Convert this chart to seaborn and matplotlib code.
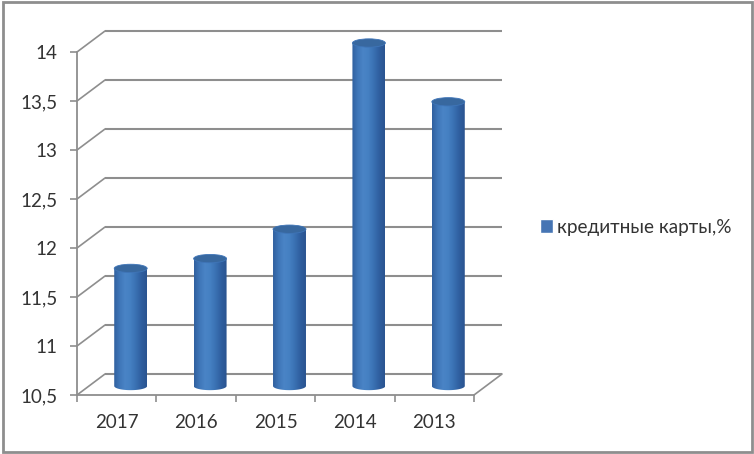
import numpy as np
import matplotlib
matplotlib.use("Agg")
import matplotlib.pyplot as plt
import seaborn as sns
from matplotlib.colors import LinearSegmentedColormap
from matplotlib.patches import Ellipse, Patch, PathPatch, Rectangle
from matplotlib.path import Path
from matplotlib.transforms import ScaledTranslation

years = ["2017", "2016", "2015", "2014", "2013"]
values = [11.7, 11.8, 12.1, 14.0, 13.4]
yticks = [10.5, 11, 11.5, 12, 12.5, 13, 13.5, 14]
yticklabels = ["10,5", "11", "11,5", "12", "12,5", "13", "13,5", "14"]
series_name = "кредитные карты,%"

W, H, DPI = 754, 454, 100
GREY = "#8e8e8e"
TEXT = "#333333"
FONT = "Lato"
BASE = yticks[0]

sns.set_theme(style="white")
plt.rcParams["font.family"] = [FONT, "DejaVu Sans"]

fig = plt.figure(figsize=(W / DPI, H / DPI), dpi=DPI, facecolor="white")
L, R, T, B = 77, 474, 52, 395
ax = fig.add_axes([L / W, 1 - B / H, (R - L) / W, (B - T) / H], facecolor="none")

sns.barplot(x=years, y=values, order=years, color="#3f75b8", width=0.415,
            ax=ax, legend=False, zorder=5)
ax.set_xlim(-0.5, 4.5)
ax.set_ylim(BASE, yticks[-1])

def shift(px, py):
    return ScaledTranslation(px / DPI, py / DPI, fig.dpi_scale_trans)

back = ax.transData + shift(28, 21)
bar_tr = ax.transData + shift(14, 9)
inv = ax.transData.inverted()

def diagonal(x, v):
    p0 = inv.transform(ax.transData.transform((x, v)))
    p1 = inv.transform(back.transform((x, v)))
    ax.plot([p0[0], p1[0]], [p0[1], p1[1]], color=GREY, lw=1.2, clip_on=False, zorder=1)

# back wall grid, side diagonals and floor
for v in yticks:
    ax.plot([-0.5, 4.5], [v, v], transform=back, color=GREY, lw=1.5,
            clip_on=False, zorder=1, solid_capstyle="butt")
    diagonal(-0.5, v)
diagonal(4.5, BASE)

# cylinders: the bars from seaborn become gradient-filled columns
cmap = LinearSegmentedColormap.from_list(
    "cyl", ["#30609f", "#3f76b8", "#4a84c6", "#4580c2", "#3a70b2", "#2f5f9f", "#2a5490"])
grad = np.linspace(0, 1, 128).reshape(1, -1)
eh = 0.085
for bar, v in zip(list(ax.patches), values):
    x, w = bar.get_x(), bar.get_width()
    cx = x + w / 2
    bar.set_visible(False)
    t = np.linspace(np.pi, 2 * np.pi, 40)
    xs = np.r_[x, cx + w / 2 * np.cos(t), x + w, x]
    ys = np.r_[v, BASE + eh / 2 * np.sin(t), v, v]
    clip = PathPatch(Path(np.c_[xs, ys]), transform=bar_tr, facecolor="none",
                     edgecolor="none", clip_on=False)
    ax.add_patch(clip)
    im = ax.imshow(grad, extent=(x, x + w, BASE - eh, v), cmap=cmap, aspect="auto",
                   transform=bar_tr, zorder=5)
    im.set_clip_box(fig.bbox)
    im.set_clip_path(clip)
    ax.add_patch(Ellipse((cx, v), w, eh, transform=bar_tr, facecolor="#38689f",
                         edgecolor="#3f75b8", lw=0.6, zorder=6, clip_on=False))
ax.set_xlim(-0.5, 4.5)
ax.set_ylim(BASE, yticks[-1])

# axes
sns.despine(ax=ax, top=True, right=True)
for s in ("left", "bottom"):
    ax.spines[s].set_color(GREY)
    ax.spines[s].set_linewidth(1.3)
    ax.spines[s].set_zorder(2)
ax.set_yticks(yticks, yticklabels)
ax.set_xticks(np.arange(len(years)), years)
ax.set_xticks(np.arange(-0.5, 5), minor=True)
ax.tick_params(axis="y", which="major", left=True, length=5, width=1.2, color=GREY, pad=9,
               labelsize=13.5, labelcolor=TEXT)
ax.tick_params(axis="x", which="major", bottom=False, pad=8, labelsize=13.5, labelcolor=TEXT)
ax.tick_params(axis="x", which="minor", bottom=True, length=5, width=1.2, color=GREY)
ax.set_xlabel("")
ax.set_ylabel("")

# legend
fig.legend(handles=[Patch(facecolor="#4675b4", label=series_name)], loc="center left",
           bbox_to_anchor=(523 / W, 1 - 227 / H), frameon=False, fontsize=13.6,
           handlelength=0.7, handleheight=0.7, handletextpad=0.2, labelcolor=TEXT)

# outer frame
fig.add_artist(Rectangle((3 / W, 2 / H), (W - 5) / W, (H - 4) / H,
                         transform=fig.transFigure, facecolor="none", edgecolor=GREY, lw=2))

fig.savefig("out.png", dpi=DPI)
